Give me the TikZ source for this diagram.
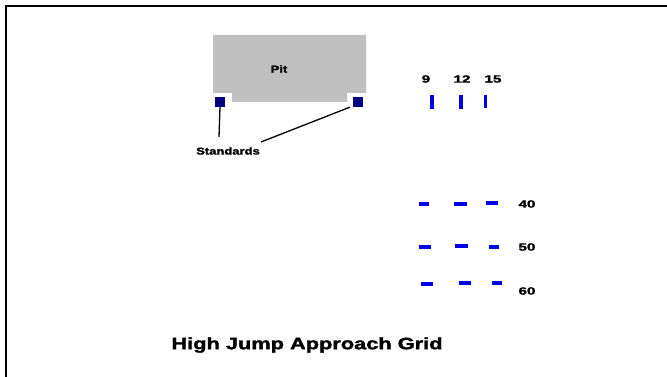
\documentclass[tikz,border=0pt]{standalone}
\usepackage{fontspec}
\setmainfont{Liberation Sans}
\newfontfamily\heavyfont[FakeBold=1.6]{Liberation Sans Bold}
\begin{document}
\begin{tikzpicture}[x=1pt,y=-1pt,
  lbl/.style={font=\fontsize{10}{12}\selectfont\heavyfont, inner sep=0pt, xscale=1.3},
  numlbl/.style={font=\fontsize{10.5}{12}\selectfont\heavyfont, inner sep=0pt, xscale=1.45},
  stdsq/.style={fill={rgb,255:red,0;green,0;blue,128}, draw=none, minimum width=10pt, minimum height=10pt, inner sep=0pt},
  bluemark/.style={draw={rgb,255:red,0;green,0;blue,230}, line width=3.5pt},
  frameline/.style={draw=black, line width=2.5pt}]
\useasboundingbox (0,0) rectangle (667,377);
\fill[white] (0,0) rectangle (667,377);
% frame
\coordinate (fTL) at (6,6);
\coordinate (fTR) at (667,6);
\coordinate (fBL) at (6,377);
\draw[frameline] (fTR) -- (fTL) -- (fBL);
% pit
\fill[fill={rgb,255:red,192;green,192;blue,192}]
  (213,35) -- (366,35) -- (366,93) -- (347,93) -- (347,102) -- (232,102) -- (232,93) -- (213,93) -- cycle;
\node[lbl] (pit) at (279,69) {Pit};
% standards
\node[stdsq] (sl) at (220,102) {};
\node[stdsq] (sr) at (358,102) {};
\node[lbl] (std) at (228,151) {Standards};
\coordinate (cl) at (219,137);
\coordinate (cr) at (261,142);
\draw[line width=1.3pt] (sl.south) -- (cl);
\draw[line width=1.3pt] (sr.south west) ++(-3,0) coordinate (srs) -- (cr);
% numbers
\node[numlbl] (n9) at (426,79) {9};
\node[numlbl] (n12) at (462,79) {12};
\node[numlbl] (n15) at (493,79) {15};
\coordinate (v1a) at (432,95); \coordinate (v1b) at (432,109);
\coordinate (v2a) at (461,95); \coordinate (v2b) at (461,109);
\coordinate (v3a) at (485,95); \coordinate (v3b) at (485,108);
\draw[bluemark] (v1a) -- (v1b);
\draw[bluemark] (v2a) -- (v2b);
\draw[bluemark, line width=3pt] (v3a) -- (v3b);
% row 40
\coordinate (a1) at (419,204); \coordinate (a2) at (429,204);
\coordinate (a3) at (454,204); \coordinate (a4) at (467,204);
\coordinate (a5) at (486,203); \coordinate (a6) at (498,203);
\draw[bluemark] (a1) -- (a2);
\draw[bluemark] (a3) -- (a4);
\draw[bluemark] (a5) -- (a6);
\node[numlbl] (r40) at (527,204) {40};
% row 50
\coordinate (b1) at (419,247); \coordinate (b2) at (431,247);
\coordinate (b3) at (455,246); \coordinate (b4) at (468,246);
\coordinate (b5) at (489,247); \coordinate (b6) at (499,247);
\draw[bluemark] (b1) -- (b2);
\draw[bluemark] (b3) -- (b4);
\draw[bluemark] (b5) -- (b6);
\node[numlbl] (r50) at (527,247) {50};
% row 60
\coordinate (c1) at (421,284); \coordinate (c2) at (433,284);
\coordinate (c3) at (459,283); \coordinate (c4) at (471,283);
\coordinate (c5) at (492,283); \coordinate (c6) at (502,283);
\draw[bluemark] (c1) -- (c2);
\draw[bluemark] (c3) -- (c4);
\draw[bluemark] (c5) -- (c6);
\node[numlbl] (r60) at (527,291) {60};
% title
\node[font=\fontsize{16.5}{18}\selectfont\heavyfont, inner sep=0pt, xscale=1.32] (title) at (307,345) {High Jump Approach Grid};
\end{tikzpicture}
\end{document}
